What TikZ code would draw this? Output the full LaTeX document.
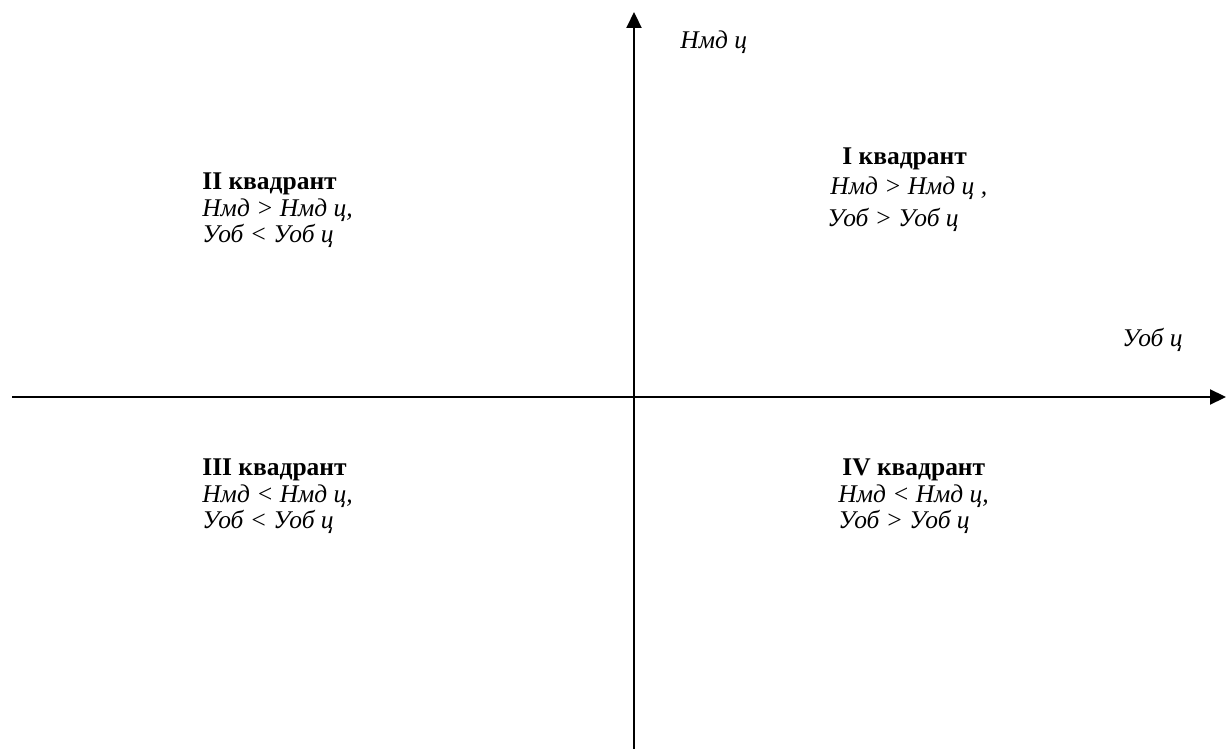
\documentclass[tikz,border=0pt]{standalone}
\usepackage{fontspec}
\setmainfont{Liberation Serif}
\usetikzlibrary{arrows.meta}
\tikzset{
  axis/.style={line width=1.2pt,-{Triangle[length=0.32cm,width=0.3cm]}},
  qtitle/.style={anchor=west,inner sep=0pt,font=\fontsize{14.5}{17}\selectfont\bfseries},
  qline/.style={anchor=west,inner sep=0pt,font=\fontsize{14.5}{17}\selectfont\itshape},
}
\begin{document}
\begin{tikzpicture}[x=0.02cm,y=-0.02cm]
\useasboundingbox (0,0) rectangle (1226,749);

% axes
\coordinate (ybot) at (634,749);
\coordinate (ytop) at (634,12);
\coordinate (xleft) at (12,397);
\coordinate (xright) at (1226,397);
\draw[axis] (ybot) -- (ytop);
\draw[axis] (xleft) -- (xright);
\node[qline] (ylab) at (680,42) {Нмд ц};
\node[qline] (xlab) at (1122,340) {Уоб ц};

% I
\node[qtitle] (q1) at (842,159) {I квадрант};
\node[qline] (q1a) at (830,188) {Нмд > Нмд ц ,};
\node[qline] (q1b) at (827,220) {Уоб > Уоб ц};

% II
\node[qtitle] (q2) at (202,184) {II квадрант};
\node[qline] (q2a) at (202,210) {Нмд > Нмд ц,};
\node[qline] (q2b) at (202,236) {Уоб < Уоб ц};

% III
\node[qtitle] (q3) at (202,470) {III квадрант};
\node[qline] (q3a) at (202,496) {Нмд < Нмд ц,};
\node[qline] (q3b) at (202,522) {Уоб < Уоб ц};

% IV
\node[qtitle] (q4) at (842,470) {IV квадрант};
\node[qline] (q4a) at (838,496) {Нмд < Нмд ц,};
\node[qline] (q4b) at (838,522) {Уоб > Уоб ц};
\end{tikzpicture}
\end{document}
